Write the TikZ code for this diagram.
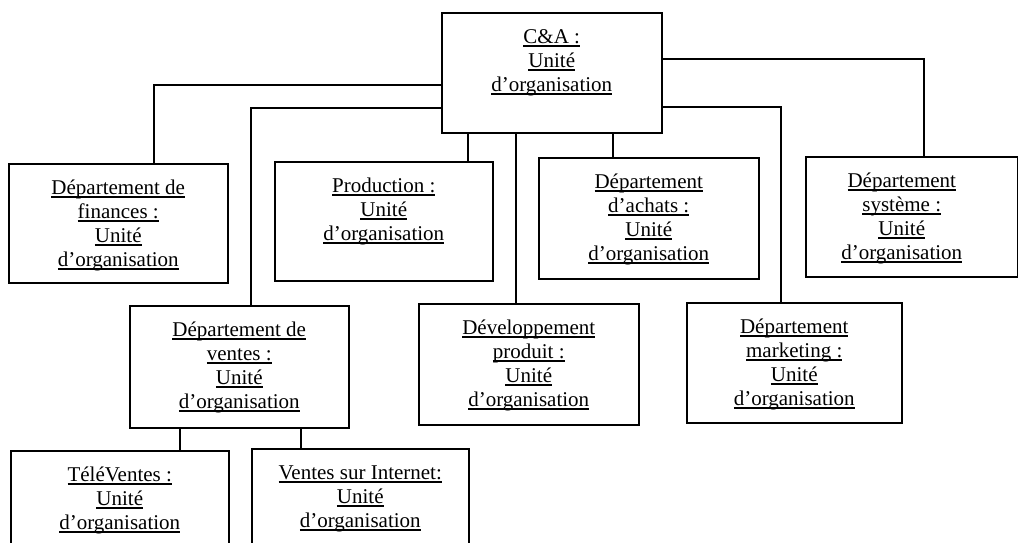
\documentclass[tikz,border=0pt]{standalone}
\usepackage{fontspec}
\setmainfont{Liberation Serif}
\usetikzlibrary{calc}
\newcommand\ulx[1]{\leavevmode\setbox0=\hbox{#1}\rlap{\rule[-3pt]{\wd0}{1.2pt}}\box0}
\newcommand\orgtxt[2]{\parbox[c][#1][t]{200pt}{\centering\fontsize{21pt}{24pt}\selectfont\vspace*{14pt}\leavevmode\strut#2}}
\tikzset{
  orgbox/.style={draw, line width=1.5pt, rectangle, inner sep=0pt, anchor=north west},
  link/.style={line width=1.6pt}
}
\begin{document}
\begin{tikzpicture}[x=1pt, y=-1pt]
\useasboundingbox (0,0) rectangle (1018,542);
\clip (0,0) rectangle (1018,542);
\fill[white] (0,0) rectangle (1018,542);

\node[orgbox, minimum width=220pt, minimum height=120pt] (cna) at (441,12)
  {\orgtxt{120pt}{\ulx{C\&A :}\\\ulx{Unité}\\\ulx{d’organisation}}};
\node[orgbox, minimum width=219pt, minimum height=119pt] (fin) at (8,163)
  {\orgtxt{119pt}{\ulx{Département de}\\\ulx{finances :}\\\ulx{Unité}\\\ulx{d’organisation}}};
\node[orgbox, minimum width=218pt, minimum height=119pt] (prod) at (274,161)
  {\orgtxt{119pt}{\ulx{Production :}\\\ulx{Unité}\\\ulx{d’organisation}}};
\node[orgbox, minimum width=220pt, minimum height=121pt] (ach) at (538,157)
  {\orgtxt{121pt}{\ulx{Département}\\\ulx{d’achats :}\\\ulx{Unité}\\\ulx{d’organisation}}};
\node[orgbox, minimum width=212pt, minimum height=120pt] (sys) at (805,156)
  {\kern-10pt\orgtxt{120pt}{\ulx{Département}\\\ulx{système :}\\\ulx{Unité}\\\ulx{d’organisation}}\kern10pt};
\node[orgbox, minimum width=219pt, minimum height=122pt] (ven) at (129,305)
  {\orgtxt{122pt}{\ulx{Département de}\\\ulx{ventes :}\\\ulx{Unité}\\\ulx{d’organisation}}};
\node[orgbox, minimum width=220pt, minimum height=121pt] (dev) at (418,303)
  {\orgtxt{121pt}{\ulx{Développement}\\\ulx{produit :}\\\ulx{Unité}\\\ulx{d’organisation}}};
\node[orgbox, minimum width=215pt, minimum height=120pt] (mkt) at (686,302)
  {\orgtxt{120pt}{\ulx{Département}\\\ulx{marketing :}\\\ulx{Unité}\\\ulx{d’organisation}}};
\node[orgbox, minimum width=218pt, minimum height=120pt] (tel) at (10,450)
  {\orgtxt{120pt}{\ulx{TéléVentes :}\\\ulx{Unité}\\\ulx{d’organisation}}};
\node[orgbox, minimum width=217pt, minimum height=120pt] (inet) at (251,448)
  {\orgtxt{120pt}{\ulx{Ventes sur Internet:}\\\ulx{Unité}\\\ulx{d’organisation}}};

\draw[link] ([yshift=-73pt]cna.north west) -| ([xshift=35.5pt]fin.north);
\draw[link] ([yshift=-96pt]cna.north west) -| ([xshift=11.5pt]ven.north);
\draw[link] ([xshift=84pt]prod.north) -- ([xshift=84pt]prod.north |- cna.south);
\draw[link] ([xshift=-13pt]dev.north) -- ([xshift=-13pt]dev.north |- cna.south);
\draw[link] ([xshift=-36pt]ach.north) -- ([xshift=-36pt]ach.north |- cna.south);
\draw[link] ([yshift=-47pt]cna.north east) -| ([xshift=12pt]sys.north);
\draw[link] ([yshift=-95pt]cna.north east) -| ([xshift=-13.5pt]mkt.north);
\draw[link] ([xshift=60pt]tel.north) -- ([xshift=60pt]tel.north |- ven.south);
\draw[link] ([xshift=-59.5pt]inet.north) -- ([xshift=-59.5pt]inet.north |- ven.south);
\end{tikzpicture}
\end{document}
